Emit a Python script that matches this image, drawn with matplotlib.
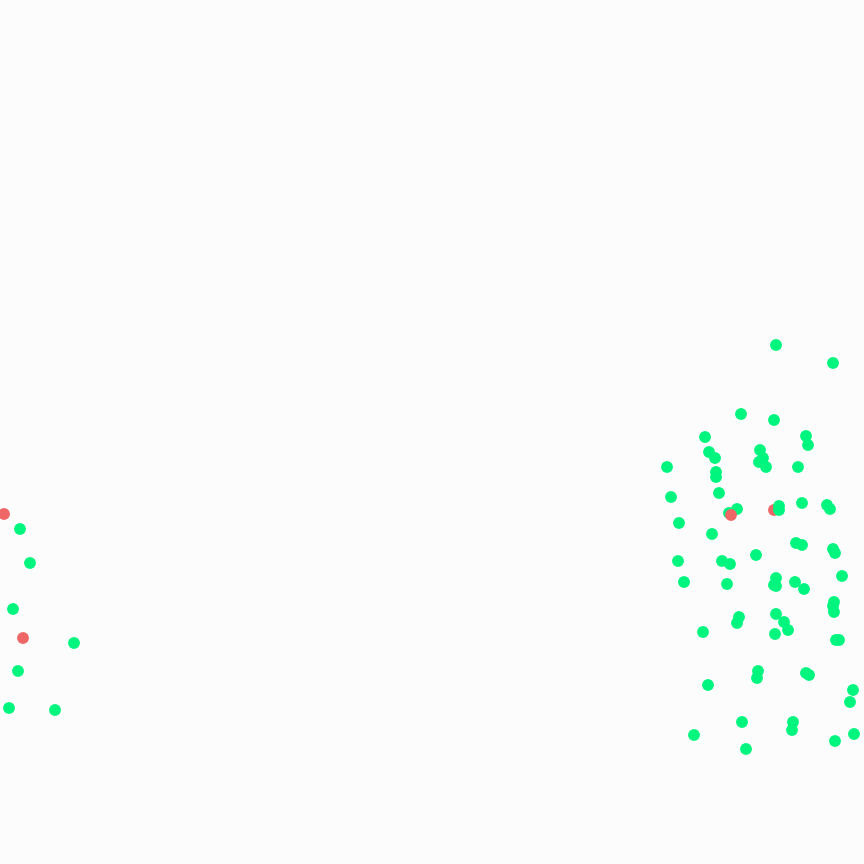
import matplotlib
matplotlib.use('Agg')
import matplotlib.pyplot as plt

# data values (x, y) with class label; drawn in this order
xs = [4, 20, 30, 13, 23, 74, 18, 9, 55,
      776, 833, 741, 774, 705, 806, 808, 709, 715, 760, 763, 759, 766, 667, 798,
      716, 716, 719, 671, 802, 827, 830, 737, 774, 779, 729, 731, 779, 679,
      712, 796, 802, 833, 835, 756, 678, 722, 730, 842, 776, 774, 776, 795, 804,
      684, 727, 834, 833, 834, 739, 737, 776, 784, 788, 775, 703, 836, 839,
      758, 757, 806, 809, 708, 853, 850, 742, 793, 792, 694, 854, 835, 746]
ys = [514, 529, 563, 609, 638, 643, 671, 708, 710,
      345, 363, 414, 420, 437, 436, 445, 452, 458, 450, 458, 462, 467, 467, 467,
      472, 477, 493, 497, 503, 505, 509, 509, 510, 506, 513, 515, 510, 523,
      534, 543, 545, 549, 553, 555, 561, 561, 564, 576, 578, 585, 586, 582, 589,
      582, 584, 602, 606, 612, 617, 623, 614, 622, 630, 634, 632, 640, 640,
      671, 678, 673, 675, 685, 690, 702, 722, 722, 730, 735, 734, 741, 749]
labels = ['r', 'g', 'g', 'g', 'r', 'g', 'g', 'g', 'g',
          'g', 'g', 'g', 'g', 'g', 'g', 'g', 'g', 'g', 'g', 'g', 'g', 'g', 'g', 'g',
          'g', 'g', 'g', 'g', 'g', 'g', 'g', 'g', 'r', 'g', 'g', 'r', 'g', 'g',
          'g', 'g', 'g', 'g', 'g', 'g', 'g', 'g', 'g', 'g', 'g', 'g', 'g', 'g', 'g',
          'g', 'g', 'g', 'g', 'g', 'g', 'g', 'g', 'g', 'g', 'g', 'g', 'g', 'g',
          'g', 'g', 'g', 'g', 'g', 'g', 'g', 'g', 'g', 'g', 'g', 'g', 'g', 'g']

palette = {'g': '#00f57f', 'r': '#ee6666'}

fig = plt.figure(figsize=(8.64, 8.64), dpi=100, facecolor='#fcfcfc')
ax = fig.add_axes([0, 0, 1, 1])
ax.set_facecolor('#fcfcfc')
ax.scatter(xs, ys, s=72, c=[palette[l] for l in labels], linewidths=0)
ax.set_xlim(0, 864)
ax.set_ylim(864, 0)
ax.axis('off')

fig.savefig('out.png', dpi=100, facecolor=fig.get_facecolor())
